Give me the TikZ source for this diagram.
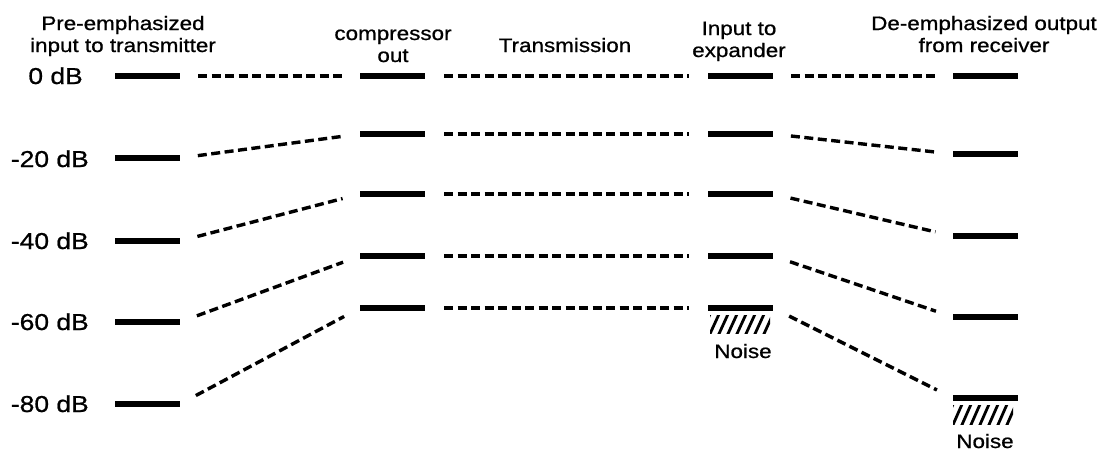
\documentclass[tikz,border=0pt]{standalone}
\usepackage{fontspec}
\setmainfont{Liberation Sans}[FakeStretch=1.15,FakeBold=0.8]
\begin{document}
\begin{tikzpicture}[x=1pt,y=-1pt,
  bar/.style={line width=6pt},
  conn/.style={line width=3.4pt, dash pattern=on 9pt off 4.5pt, shorten <=18pt, shorten >=18pt},
  hdr/.style={font=\fontsize{19.5}{22}\selectfont, align=center, anchor=base, inner sep=0pt},
  dblab/.style={font=\fontsize{23}{26}\selectfont, anchor=base east, inner sep=0pt},
  hatchline/.style={line width=2.8pt}]
\useasboundingbox (0,0) rectangle (1104,453);

% bar end coordinates: column / level
\foreach \i/\ya/\yb/\yc in {1/76/76/76, 2/158/134/154, 3/241/194/236, 4/322/256/317, 5/404/308/398}{
  \coordinate (A\i l) at (115,\ya); \coordinate (A\i r) at (180,\ya);
  \coordinate (B\i l) at (360,\yb); \coordinate (B\i r) at (425,\yb);
  \coordinate (C\i l) at (708,\yb); \coordinate (C\i r) at (773,\yb);
  \coordinate (D\i l) at (953,\yc); \coordinate (D\i r) at (1018,\yc);
}

% bars
\foreach \i in {1,...,5}{
  \draw[bar] (A\i l) -- (A\i r);
  \draw[bar] (B\i l) -- (B\i r);
  \draw[bar] (C\i l) -- (C\i r);
  \draw[bar] (D\i l) -- (D\i r);
}

% connectors
\foreach \i in {1,...,5}{
  \draw[conn] (A\i r) -- (B\i l);
  \draw[conn, shorten <=19pt, shorten >=19pt] (B\i r) -- (C\i l);
  \draw[conn] (C\i r) -- (D\i l);
}

% headers
\node[hdr] (h1) at (123,52) {Pre-emphasized\\input to transmitter};
\node[hdr] (h2) at (393,62) {compressor\\out};
\node[hdr] (h3) at (565,52) {Transmission};
\node[hdr] (h4) at (739,57) {Input to\\expander};
\node[hdr] (h5) at (984,52) {De-emphasized output\\from receiver};

% dB labels
\node[dblab] (l0) at (83,84) {0 dB};
\node[dblab] (l20) at (89,167) {-20 dB};
\node[dblab] (l40) at (89,249) {-40 dB};
\node[dblab] (l60) at (89,330) {-60 dB};
\node[dblab] (l80) at (89,412) {-80 dB};

% noise hatches
\begin{scope}
  \clip (710,315) rectangle (770,333);
  \foreach \x in {700,709,...,780}{
    \draw[hatchline] (\x,336) -- (\x+11,312);
  }
\end{scope}
\begin{scope}
  \clip (953,405) rectangle (1013,424);
  \foreach \x in {943,952,...,1023}{
    \draw[hatchline] (\x,427) -- (\x+11,402);
  }
\end{scope}
\node[hdr] (n1) at (743,358) {Noise};
\node[hdr] (n2) at (985,448) {Noise};
\end{tikzpicture}
\end{document}
